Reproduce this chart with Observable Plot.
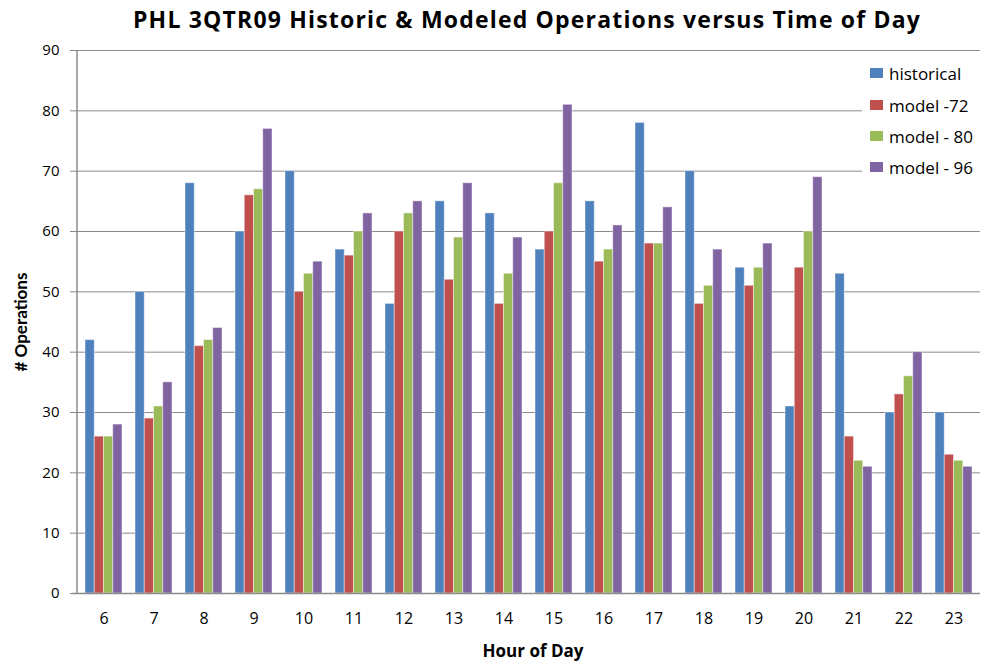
<!DOCTYPE html>
<html>
<head>
<meta charset="utf-8">
<script src="https://cdn.jsdelivr.net/npm/d3@7"></script>
<script src="https://cdn.jsdelivr.net/npm/@observablehq/plot@0.6"></script>
<style>
  html, body { margin: 0; padding: 0; background: #fff; }
  #wrap { position: relative; width: 981px; height: 664px; overflow: hidden; font-family: "Open Sans", Lato, sans-serif; }
  #title { position: absolute; top: 8px; left: 133px; white-space: nowrap;
           font-weight: bold; font-size: 23px; line-height: 23px; color: #000; }
  #chart { position: absolute; left: 0; top: 40px; }
  #legend { position: absolute; left: 862px; top: 55px; width: 119px; height: 128px; background: #fff; }
  .item { position: absolute; left: 8px; height: 20px; display: flex; align-items: center; font-size: 17px; color: #000; white-space: nowrap; }
  .sw { width: 13px; height: 10px; margin-right: 6px; }
</style>
</head>
<body>
<div id="wrap">
  <div id="title">PHL 3QTR09 Historic &amp; Modeled Operations versus Time of Day</div>
  <div id="chart"></div>
  <div id="legend"></div>
</div>
<script>
const hours      = [6, 7, 8, 9, 10, 11, 12, 13, 14, 15, 16, 17, 18, 19, 20, 21, 22, 23];
const historical = [42, 50, 68, 60, 70, 57, 48, 65, 63, 57, 65, 78, 70, 54, 31, 53, 30, 30];
const model72    = [26, 29, 41, 66, 50, 56, 60, 52, 48, 60, 55, 58, 48, 51, 54, 26, 33, 23];
const model80    = [26, 31, 42, 67, 53, 60, 63, 59, 53, 68, 57, 58, 51, 54, 60, 22, 36, 22];
const model96    = [28, 35, 44, 77, 55, 63, 65, 68, 59, 81, 61, 64, 57, 58, 69, 21, 40, 21];
const seriesNames = ["historical", "model -72", "model - 80", "model - 96"];
const seriesColors = ["#4F81BD", "#C0504D", "#9BBB59", "#8064A2"];
const yTicks = [0, 10, 20, 30, 40, 50, 60, 70, 80, 90];

const series = [historical, model72, model80, model96];

const W = 981, H = 624, mL = 77, mR = 1, mT = 10, mB = 71;
const padIn = 0.263, padOut = padIn / 2;
const step = (W - mL - mR) / (hours.length - padIn + 2 * padOut);
const bw = step * (1 - padIn);
const w = bw / series.length;

const barMarks = series.map((vals, i) =>
  Plot.barY(hours.map((h, j) => ({hour: h, value: vals[j]})), {
    x: "hour", y: "value", fill: seriesColors[i],
    stroke: "white", strokeOpacity: 0.45, strokeWidth: 1,
    insetLeft: i * w, insetRight: (series.length - 1 - i) * w
  })
);

const chart = Plot.plot({
  width: W, height: H,
  marginLeft: mL, marginRight: mR, marginTop: mT, marginBottom: mB,
  style: {fontFamily: "'Open Sans', Lato, sans-serif", fontSize: "15px", color: "#000", background: "white"},
  x: {type: "band", domain: hours, paddingInner: padIn, paddingOuter: padOut, label: null},
  y: {domain: [0, 90], label: null},
  marks: [
    Plot.ruleY(yTicks.filter(d => d > 0), {y: d => d, stroke: "#8a8a8a", strokeWidth: 1}),
    ...barMarks,
    Plot.ruleY([0], {stroke: "#8a8a8a", strokeWidth: 1.5, insetLeft: -5}),
    Plot.axisY({ticks: yTicks, tickSize: 7, tickPadding: 11, fontSize: 15, stroke: "#8a8a8a", label: null}),
    Plot.axisX({tickSize: 0, tickPadding: 19, fontSize: 16, label: null}),
    Plot.text(["Hour of Day"], {frameAnchor: "bottom", dy: 58, dx: 4, fontWeight: "bold", fontSize: 17, lineAnchor: "middle", textAnchor: "middle"}),
    Plot.text(["# Operations"], {frameAnchor: "left", dx: -56, rotate: -90, fontWeight: "bold", fontSize: 17, lineAnchor: "middle", textAnchor: "middle", fontFamily: "Lato, sans-serif"})
  ]
});

// vertical axis line at the left edge of the frame
d3.select(chart).append("line")
  .attr("x1", mL).attr("x2", mL)
  .attr("y1", mT).attr("y2", H - mB)
  .attr("stroke", "#8a8a8a").attr("stroke-width", 1.5);

document.getElementById("chart").appendChild(chart);

// title: spread to the reference extent (x 133..921)
const title = document.getElementById("title");
const natural = title.getBoundingClientRect().width;
const nChars = title.textContent.length;
title.style.letterSpacing = ((921 - 133 - natural) / nChars) + "px";

const legend = document.getElementById("legend");
const rowTops = [8, 40, 71, 102];
seriesNames.forEach((name, i) => {
  const it = document.createElement("div");
  it.className = "item";
  it.style.top = rowTops[i] + "px";
  it.innerHTML = `<span class="sw" style="background:${seriesColors[i]}"></span><span>${name}</span>`;
  legend.appendChild(it);
});
</script>
</body>
</html>
